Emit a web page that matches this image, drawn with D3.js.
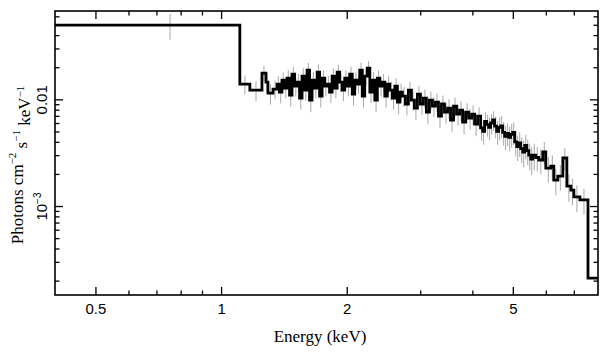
<!DOCTYPE html>
<html><head><meta charset="utf-8">
<script src="https://cdn.jsdelivr.net/npm/d3@7"></script>
<style>body{margin:0;background:#fff}svg{display:block}</style></head>
<body><svg id="c" width="609" height="357"></svg>
<script>
// Bin lower edges (keV); last value is the upper edge of the final bin
const energyEdges = [0.400,1.109,1.172,1.253,1.281,1.295,1.332,1.362,1.380,1.399,
1.419,1.439,1.459,1.479,1.500,1.521,1.542,1.563,1.585,1.607,
1.629,1.652,1.675,1.699,1.722,1.746,1.771,1.795,1.820,1.845,
1.871,1.897,1.924,1.950,1.978,2.005,2.033,2.062,2.090,2.120,
2.149,2.179,2.209,2.240,2.272,2.303,2.335,2.368,2.400,2.434,
2.468,2.502,2.537,2.572,2.608,2.645,2.682,2.719,2.765,2.811,
2.858,2.906,2.954,3.003,3.053,3.104,3.156,3.209,3.263,3.318,
3.373,3.430,3.488,3.546,3.605,3.666,3.727,3.790,3.853,3.918,
3.983,4.050,4.117,4.186,4.233,4.280,4.328,4.376,4.424,4.473,
4.523,4.574,4.624,4.676,4.728,4.781,4.834,4.888,4.942,4.997,
5.053,5.109,5.166,5.223,5.281,5.340,5.400,5.460,5.520,5.581,
5.675,5.770,5.899,5.998,6.166,6.269,6.410,6.589,6.737,6.888,
7.003,7.239,7.570,8.000];
// Flux (photons cm^-2 s^-1 keV^-1) per bin
const flux = [0.0497,0.01391,0.01222,0.01764,0.01453,0.01146,0.01249,0.01391,0.01171,0.01517,
0.01276,0.01584,0.01097,0.01726,0.01332,0.01453,0.01028,0.01654,0.01222,0.01882,
0.00985,0.01517,0.01276,0.01803,0.01074,0.01584,0.01332,0.01391,0.01171,0.01654,
0.01276,0.01803,0.01453,0.01222,0.01584,0.01332,0.01726,0.01121,0.01517,0.01391,
0.01882,0.01074,0.01654,0.01965,0.01171,0.01517,0.00985,0.01584,0.01332,0.01453,
0.01074,0.01391,0.01222,0.01028,0.01332,0.00943,0.01171,0.01074,0.00904,0.01222,
0.00985,0.00829,0.01121,0.00904,0.01028,0.00760,0.00985,0.00865,0.00943,0.00697,
0.00904,0.00760,0.00829,0.00640,0.00865,0.00728,0.00794,0.00613,0.00760,0.00668,
0.00728,0.00587,0.00697,0.00540,0.00500,0.00620,0.00580,0.00545,0.00600,0.00640,
0.00560,0.00500,0.00545,0.00565,0.00490,0.00450,0.00480,0.00440,0.00470,0.00490,
0.00400,0.00360,0.00390,0.00345,0.00320,0.00370,0.00330,0.00300,0.00275,0.00300,
0.00285,0.00270,0.00321,0.00227,0.00237,0.00175,0.00191,0.00282,0.00154,0.00141,
0.00122,0.00114,0.000211];
// Relative 1-sigma errors per bin
const relErr = [0.27,0.20,0.21,0.16,0.20,0.22,0.20,0.19,0.22,0.18,
0.20,0.18,0.22,0.17,0.20,0.19,0.22,0.18,0.21,0.17,
0.23,0.19,0.20,0.18,0.22,0.18,0.20,0.19,0.21,0.18,
0.20,0.17,0.19,0.21,0.18,0.20,0.17,0.22,0.18,0.19,
0.17,0.22,0.18,0.16,0.21,0.19,0.23,0.18,0.20,0.19,
0.22,0.19,0.20,0.22,0.19,0.23,0.20,0.21,0.22,0.19,
0.21,0.23,0.19,0.21,0.20,0.23,0.20,0.21,0.20,0.23,
0.20,0.22,0.21,0.23,0.20,0.22,0.21,0.23,0.21,0.22,
0.21,0.23,0.21,0.24,0.25,0.22,0.23,0.24,0.22,0.21,
0.23,0.25,0.24,0.23,0.25,0.26,0.24,0.26,0.25,0.24,
0.27,0.27,0.26,0.27,0.28,0.26,0.27,0.28,0.29,0.28,
0.26,0.26,0.24,0.27,0.26,0.28,0.27,0.24,0.29,0.28,
0.28,0.27,0.0];

const xTicks = [0.5, 1, 2, 5];
const xTickLabels = ["0.5", "1", "2", "5"];
const xMinorTicks = [0.6, 0.7, 0.8, 0.9, 3, 4, 6, 7];
const yMajorTicks = [1e-3, 1e-2];
const yMajorLabels = [["10", "\u22123"], ["0.01", ""]];
const yMinorTicks = [2e-4,3e-4,4e-4,5e-4,6e-4,7e-4,8e-4,9e-4,
  2e-3,3e-3,4e-3,5e-3,6e-3,7e-3,8e-3,9e-3,2e-2,3e-2,4e-2,5e-2,6e-2];

const L = 55, R = 598, T = 11, B = 295;
const svg = d3.select("#c");
const x = d3.scaleLog().domain([0.4, 8.0]).range([L, R]);
const y = d3.scaleLog().domain([1.466e-4, 0.0673]).range([B, T]);

svg.append("defs").append("clipPath").attr("id", "clip")
  .append("rect").attr("x", L).attr("y", T).attr("width", R - L).attr("height", B - T);

const bins = flux.map((f, i) => ({lo: energyEdges[i], hi: energyEdges[i + 1], f, e: relErr[i]}));

const plot = svg.append("g").attr("clip-path", "url(#clip)");
// error bars
plot.append("g").selectAll("line").data(bins.filter(d => d.e > 0)).join("line")
  .attr("x1", d => x((d.lo + d.hi) / 2)).attr("x2", d => x((d.lo + d.hi) / 2))
  .attr("y1", d => y(d.f * (1 + d.e))).attr("y2", d => y(d.f * (1 - d.e)))
  .attr("stroke", "#a8a8a8").attr("stroke-width", 1);
// step histogram
const pts = bins.map(d => [d.lo, d.f]);
pts.push([bins[bins.length - 1].hi, bins[bins.length - 1].f]);
plot.append("path").datum(pts)
  .attr("d", d3.line().x(d => x(d[0])).y(d => y(d[1])).curve(d3.curveStepAfter))
  .attr("fill", "none").attr("stroke", "#000").attr("stroke-width", 2.8)
  .attr("stroke-linejoin", "miter");

function styleAxis(g) {
  g.select(".domain").remove();
  g.selectAll(".tick line").attr("stroke", "#000").attr("stroke-width", 1.3);
}
const tf = "Liberation Sans, Arial, Helvetica, sans-serif";
// bottom
svg.append("g").attr("transform", `translate(0,${B})`)
  .call(d3.axisBottom(x).tickValues(xTicks).tickFormat((d, i) => xTickLabels[i]).tickSize(-8).tickPadding(8))
  .call(styleAxis)
  .call(g => g.selectAll("text").attr("font-family", tf).attr("font-size", 15).attr("fill", "#000"));
svg.append("g").attr("transform", `translate(0,${B})`)
  .call(d3.axisBottom(x).tickValues(xMinorTicks).tickFormat("").tickSize(-4.5)).call(styleAxis);
// top
svg.append("g").attr("transform", `translate(0,${T})`)
  .call(d3.axisTop(x).tickValues(xTicks).tickFormat("").tickSize(-8)).call(styleAxis);
svg.append("g").attr("transform", `translate(0,${T})`)
  .call(d3.axisTop(x).tickValues(xMinorTicks).tickFormat("").tickSize(-4.5)).call(styleAxis);
// left
const la = svg.append("g").attr("transform", `translate(${L},0)`)
  .call(d3.axisLeft(y).tickValues(yMajorTicks).tickFormat("").tickSize(-8)).call(styleAxis);
la.selectAll(".tick").each(function(d, i) {
  const t = d3.select(this).append("text")
    .attr("transform", "translate(-8,0) rotate(-90)")
    .attr("text-anchor", "middle").attr("font-family", tf).attr("font-size", 15).attr("fill", "#000");
  t.append("tspan").text(yMajorLabels[i][0]);
  if (yMajorLabels[i][1]) t.append("tspan").attr("font-size", 10).attr("dy", "-0.6em").text(yMajorLabels[i][1]);
});
svg.append("g").attr("transform", `translate(${L},0)`)
  .call(d3.axisLeft(y).tickValues(yMinorTicks).tickFormat("").tickSize(-4.5)).call(styleAxis);
// right
svg.append("g").attr("transform", `translate(${R},0)`)
  .call(d3.axisRight(y).tickValues(yMajorTicks).tickFormat("").tickSize(-8)).call(styleAxis);
svg.append("g").attr("transform", `translate(${R},0)`)
  .call(d3.axisRight(y).tickValues(yMinorTicks).tickFormat("").tickSize(-4.5)).call(styleAxis);

// frame
svg.append("rect").attr("x", L).attr("y", T).attr("width", R - L).attr("height", B - T)
  .attr("fill", "none").attr("stroke", "#000").attr("stroke-width", 1.6);

const sf = "Liberation Serif, Times New Roman, serif";
svg.append("text").attr("x", 320).attr("y", 342).attr("text-anchor", "middle")
  .attr("font-family", sf).attr("font-size", 17).attr("fill", "#000").text("Energy (keV)");
const yt = svg.append("text").attr("transform", "translate(23,165) rotate(-90)")
  .attr("text-anchor", "middle").attr("font-family", sf).attr("font-size", 17).attr("fill", "#000");
yt.append("tspan").text("Photons cm");
yt.append("tspan").attr("font-size", 11).attr("dy", "-0.6em").text("\u22122");
yt.append("tspan").attr("dy", "0.6em").text(" s");
yt.append("tspan").attr("font-size", 11).attr("dy", "-0.6em").text("\u22121");
yt.append("tspan").attr("dy", "0.6em").text(" keV");
yt.append("tspan").attr("font-size", 11).attr("dy", "-0.6em").text("\u22121");
</script></body></html>
